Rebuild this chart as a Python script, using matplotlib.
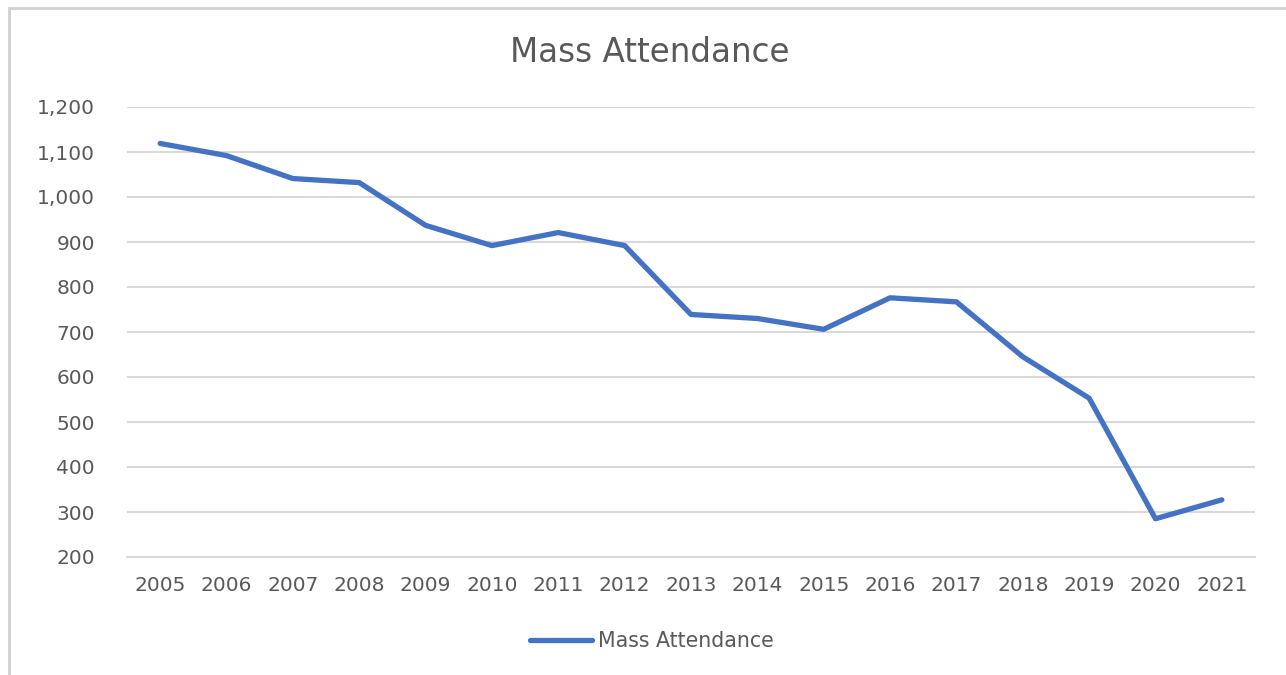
import matplotlib
matplotlib.use("Agg")
import matplotlib.pyplot as plt
from matplotlib.ticker import FuncFormatter, MultipleLocator
from matplotlib.patches import Rectangle
from matplotlib.lines import Line2D

years = ["2005", "2006", "2007", "2008", "2009", "2010", "2011", "2012", "2013",
         "2014", "2015", "2016", "2017", "2018", "2019", "2020", "2021"]
attendance = [1119, 1092, 1041, 1032, 937, 892, 921, 892, 739,
              730, 706, 776, 767, 645, 553, 285, 327]
series_name = "Mass Attendance"
title = "Mass Attendance"

plt.rcParams['font.family'] = ['DejaVu Sans']
W, H = 1286, 675
fig = plt.figure(figsize=(W / 100, H / 100), dpi=100)
fig.patch.set_facecolor("white")

# outer chart border
fig.patches.append(Rectangle((9 / W, -0.1), 1.2, 1 - 8 / H + 0.1, transform=fig.transFigure,
                             fill=False, edgecolor="#d0d0d0", linewidth=2))

ax = fig.add_axes([127 / W, 1 - 557 / H, (1255 - 127) / W, (557 - 107) / H])
x = list(range(len(years)))
ax.plot(x, attendance, color="#4472C4", linewidth=3.8, solid_capstyle="round",
        solid_joinstyle="round", label=series_name)
ax.set_xlim(-0.5, len(years) - 0.5)
ax.set_ylim(200, 1200)
ax.yaxis.set_major_locator(MultipleLocator(100))
ax.yaxis.set_major_formatter(FuncFormatter(lambda v, p: f"{int(v):,}"))
ax.set_xticks(x)
ax.set_xticklabels(years)
ax.grid(axis="y", color="#d9d9d9", linewidth=1.5)
ax.set_axisbelow(True)
for s in ["top", "right", "left"]:
    ax.spines[s].set_visible(False)
ax.spines["bottom"].set_color("#d9d9d9")
ax.spines["bottom"].set_linewidth(1.5)
ax.tick_params(axis="both", length=0, labelsize=14.5, labelcolor="#595959")
ax.tick_params(axis="y", pad=23)
ax.tick_params(axis="x", pad=14)

fig.text(650 / W, 1 - 53 / H, title, ha="center", va="center", fontsize=23.5, color="#595959")

handle = Line2D([0], [0], color="#4472C4", linewidth=3.8, solid_capstyle="round")
leg = fig.legend([handle], [series_name], loc="center", bbox_to_anchor=(652 / W, 1 - 641 / H),
                 frameon=False, fontsize=14.8, handlelength=3.0, handletextpad=0.3)
for t in leg.get_texts():
    t.set_color("#595959")

fig.savefig("out.png", dpi=100)
